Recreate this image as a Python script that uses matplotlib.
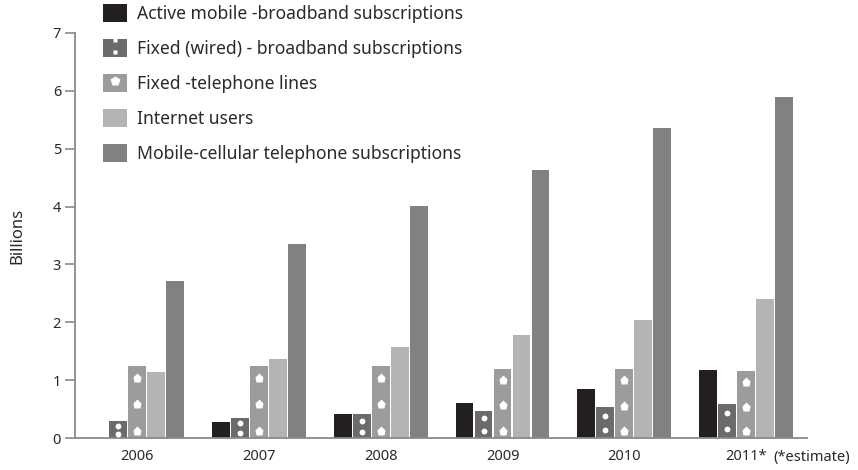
import matplotlib
matplotlib.use("Agg")
import matplotlib.pyplot as plt
import numpy as np
from matplotlib.patches import Patch
from matplotlib.lines import Line2D

plt.rcParams['font.family'] = ['Noto Sans', 'DejaVu Sans']

# data (billions)
years = ['2006', '2007', '2008', '2009', '2010', '2011*']
active_mobile_bb = [0.0, 0.27, 0.41, 0.61, 0.85, 1.18]
fixed_bb = [0.29, 0.35, 0.41, 0.47, 0.53, 0.59]
fixed_tel = [1.24, 1.24, 1.24, 1.20, 1.19, 1.15]
internet = [1.14, 1.37, 1.57, 1.78, 2.04, 2.40]
mobile_cell = [2.71, 3.35, 4.01, 4.63, 5.36, 5.89]

labels = ['Active mobile -broadband subscriptions',
          'Fixed (wired) - broadband subscriptions',
          'Fixed -telephone lines',
          'Internet users',
          'Mobile-cellular telephone subscriptions']
series = [active_mobile_bb, fixed_bb, fixed_tel, internet, mobile_cell]
colors = ['#231f20', '#6b6b6b', '#9c9c9c', '#b4b4b4', '#818181']

txt = '#2a2a2a'
spine = '#8a8a8a'

fig = plt.figure(figsize=(8.58, 4.70), dpi=100)
ax = fig.add_axes([75/858, 1-438/470, (807-75)/858, (438-33)/470])

x = np.arange(len(years))
width = 0.145
pitch = 0.156
for i, (vals, col) in enumerate(zip(series, colors)):
    pos = x + (i - 2) * pitch
    ax.bar(pos, vals, width, color=col, edgecolor='none', zorder=2)
    v = np.array(vals)
    if i == 1:
        # white dots in the broadband bars
        for f in (0.25, 0.72):
            ax.plot(pos, v * f, 'o', color='white', ms=4.2, mec='none', zorder=3)
    if i == 2:
        # white pentagons in the telephone bars
        for f in (0.1, 0.47, 0.84):
            ax.plot(pos, v * f, 'p', color='white', ms=6.5, mec='none', zorder=3)

ax.set_xlim(-0.51, 5.5)
ax.set_ylim(0, 7)
ax.set_yticks(range(8))
ax.set_xticks(x)
ax.set_xticklabels(years, fontweight='semibold')
ax.set_yticklabels([str(t) for t in range(8)], fontweight='semibold')
for s in ('top', 'right'):
    ax.spines[s].set_visible(False)
for s in ('left', 'bottom'):
    ax.spines[s].set_color(spine)
    ax.spines[s].set_linewidth(1.3)
ax.tick_params(axis='x', length=0, pad=8, labelsize=10.5, labelcolor=txt)
ax.tick_params(axis='y', length=7, width=1.2, color=spine, pad=3,
               labelsize=10.5, labelcolor=txt)
ax.set_ylabel('Billions', fontsize=12, color=txt, labelpad=20)

fig.text(773/858, 1-457/470, '(*estimate)', fontsize=10.5, color=txt,
         ha='left', va='center', fontweight='bold')

handles = [Patch(facecolor=colors[0]),
           (Patch(facecolor=colors[1]),
            Line2D([], [], ls='none', marker='$:$', color='white', ms=11, mec='none')),
           (Patch(facecolor=colors[2]),
            Line2D([], [], ls='none', marker='p', color='white', ms=7, mec='none')),
           Patch(facecolor=colors[3]),
           Patch(facecolor=colors[4])]
leg = fig.legend(handles, labels, loc='upper left',
                 bbox_to_anchor=(103/858, 1-4/470), frameon=False,
                 fontsize=12.6, handlelength=1.38, handleheight=1.2,
                 handletextpad=0.57, labelspacing=0.92, borderpad=0,
                 borderaxespad=0)
for t in leg.get_texts():
    t.set_color(txt)

fig.savefig('out.png', dpi=100)
